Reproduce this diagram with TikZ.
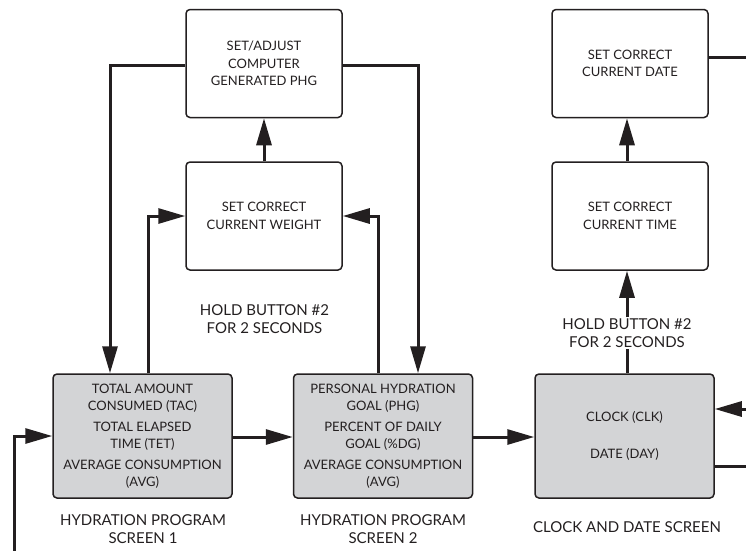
\documentclass[tikz,border=0pt]{standalone}
\usepackage{fontspec}
\setmainfont{Lato}
\usetikzlibrary{arrows.meta}
\definecolor{boxgray}{HTML}{D3D4D6}
\definecolor{ink}{HTML}{231F20}
\begin{document}
\begin{tikzpicture}[x=1pt,y=-1pt,
  box/.style={draw=ink, line width=1.5pt, rounded corners=4pt, minimum width=156pt,
    minimum height=108pt, align=center, text=ink, inner sep=0pt,
    font=\fontsize{13}{17.5}\selectfont},
  screen/.style={box, fill=boxgray, minimum width=179pt, minimum height=124pt,
    font=\fontsize{13}{16.5}\selectfont},
  conn/.style={draw=ink, line width=3pt},
  arr/.style={conn, -{Triangle[length=27pt,width=15pt]}},
  lbl/.style={align=center, text=ink, inner sep=1pt, font=\fontsize{15}{18.5}\selectfont}]
\useasboundingbox (0,0) rectangle (746,550);
% boxes
\node[box] (phg) at (264,63.5) {SET/ADJUST\\COMPUTER\\GENERATED PHG};
\node[box] (weight) at (264,216) {SET CORRECT\\CURRENT WEIGHT};
\node[box] (date) at (630,63.5) {SET CORRECT\\CURRENT DATE};
\node[box] (time) at (630,216) {SET CORRECT\\CURRENT TIME};
\node[screen] (s1) at (142.5,436) {TOTAL AMOUNT\\CONSUMED (TAC)\\[5pt]TOTAL ELAPSED\\TIME (TET)\\[5pt]AVERAGE CONSUMPTION\\(AVG)};
\node[screen] (s2) at (383,436) {PERSONAL HYDRATION\\GOAL (PHG)\\[5pt]PERCENT OF DAILY\\GOAL (\%DG)\\[5pt]AVERAGE CONSUMPTION\\(AVG)};
\node[screen] (clk) at (624.5,436) {CLOCK (CLK)\\[20pt]DATE (DAY)};
% labels
\node[lbl] (hold1) at (264.5,319) {HOLD BUTTON \#2\\FOR 2 SECONDS};
\node[lbl] (hold2) at (627,333) {HOLD BUTTON \#2\\FOR 2 SECONDS};
\node[lbl] (cap1) at (143,529) {HYDRATION PROGRAM\\SCREEN 1};
\node[lbl] (cap2) at (383,529) {HYDRATION PROGRAM\\SCREEN 2};
\node[lbl] (cap3) at (627,527) {CLOCK AND DATE SCREEN};
% connection points
\coordinate (dateR) at ([yshift=6.5pt]date.east);
\coordinate (clkRin) at ([yshift=27pt]clk.east);
\coordinate (clkRout) at ([yshift=-30pt]clk.east);
\coordinate (offR) at (750,0);
\coordinate (offB) at (14,554);
% connectors
\draw[arr] ([yshift=-1.5pt]phg.west) -| ([xshift=-32.5pt]s1.north);
\draw[arr] ([yshift=-1.5pt]phg.east) -| ([xshift=35pt]s2.north);
\draw[arr] ([xshift=5.5pt]s1.north) |- (weight.west);
\draw[arr] ([xshift=-5pt]s2.north) |- (weight.east);
\draw[arr] (weight.north) -- (phg.south);
\draw[arr] ([yshift=-1pt]s1.east) -- ([yshift=-1pt]s2.west);
\draw[arr] ([yshift=-1pt]s2.east) -- ([yshift=-1pt]clk.west);
\draw[conn] (clk.north -| hold2) -- (hold2.south);
\draw[arr] (hold2.north) -- (time.south -| hold2.north);
\draw[arr] (time.north -| hold2.north) -- (date.south -| hold2.north);
\draw[conn] (dateR) -- (offR |- dateR);
\draw[arr] (offR |- clkRin) -- (clkRin);
\draw[conn] (clkRout) -- (offR |- clkRout);
\draw[arr] (offB) |- (s1.west);
\end{tikzpicture}
\end{document}
